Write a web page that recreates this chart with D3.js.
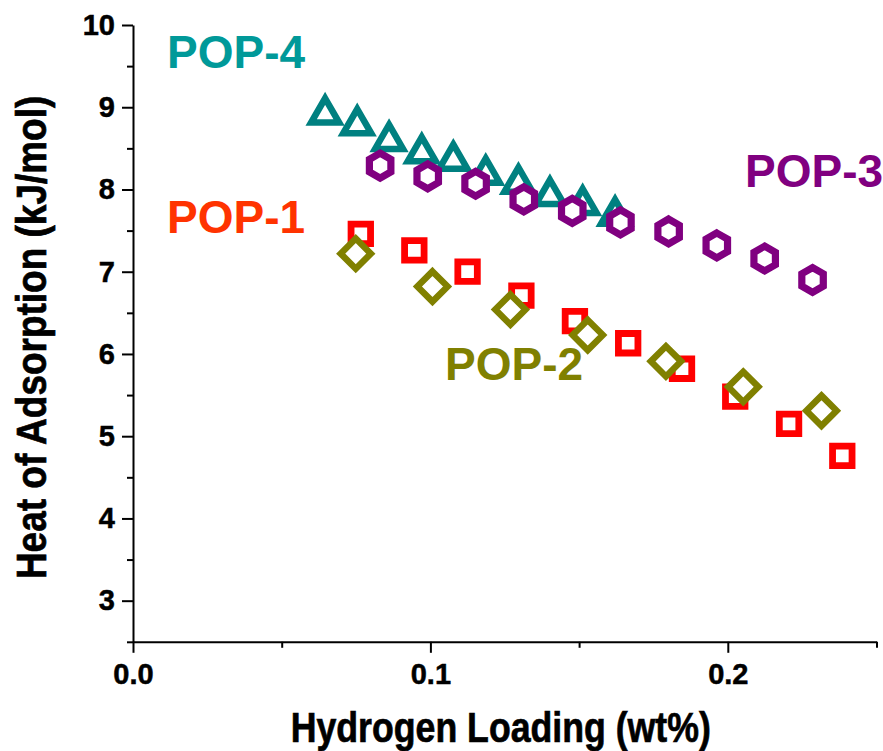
<!DOCTYPE html>
<html>
<head>
<meta charset="utf-8">
<script src="https://cdn.jsdelivr.net/npm/d3@7"></script>
<style>
  body { margin: 0; background: #fff; }
  svg { display: block; }
  text { font-family: "Liberation Sans", Arial, sans-serif; font-weight: bold; }
</style>
</head>
<body>
<svg id="chart" width="883" height="751"></svg>
<script>
// Isosteric heat of H2 adsorption vs. hydrogen uptake for four porous organic polymers
const pop1X = [0.0766, 0.0946, 0.1125, 0.1306, 0.1486, 0.1665, 0.1846, 0.2025, 0.2206, 0.2385];
const pop1Y = [7.46, 7.26, 7.00, 6.71, 6.40, 6.13, 5.82, 5.48, 5.15, 4.76];
const pop2X = [0.0749, 0.1007, 0.1269, 0.1529, 0.1792, 0.2052, 0.2315];
const pop2Y = [7.22, 6.82, 6.54, 6.23, 5.91, 5.60, 5.31];
const pop3X = [0.0831, 0.0991, 0.1152, 0.1314, 0.1477, 0.1639, 0.1801, 0.1963, 0.2124, 0.2285];
const pop3Y = [8.29, 8.16, 8.07, 7.88, 7.74, 7.60, 7.49, 7.32, 7.16, 6.90];
const pop4X = [0.0646, 0.0754, 0.0861, 0.0971, 0.1077, 0.1186, 0.1296, 0.1402, 0.1512, 0.1621];
const pop4Y = [8.98, 8.85, 8.66, 8.51, 8.42, 8.25, 8.14, 7.99, 7.88, 7.75];

const xMajor = [0.0, 0.1, 0.2];
const xMinor = [0.05, 0.15, 0.25];
const yMajor = [3, 4, 5, 6, 7, 8, 9, 10];
const yMinor = [2.5, 3.5, 4.5, 5.5, 6.5, 7.5, 8.5, 9.5];

const xTitle = "Hydrogen Loading (wt%)";
const yTitle = "Heat of Adsorption (kJ/mol)";

// Open marker shapes (size = characteristic length in px)
const squareShape = { draw(ctx, s) { const h = s / 2; ctx.moveTo(-h, -h); ctx.lineTo(h, -h); ctx.lineTo(h, h); ctx.lineTo(-h, h); ctx.closePath(); } };
const diamondShape = { draw(ctx, r) { ctx.moveTo(0, -r); ctx.lineTo(r, 0); ctx.lineTo(0, r); ctx.lineTo(-r, 0); ctx.closePath(); } };
const triangleShape = { draw(ctx, a) {
  const h = a * Math.sqrt(3) / 2, off = 1.6;
  ctx.moveTo(0, -h / 2 + off); ctx.lineTo(a / 2, h / 2 + off); ctx.lineTo(-a / 2, h / 2 + off); ctx.closePath();
} };
const hexagonShape = { draw(ctx, R) {
  for (let k = 0; k < 6; k++) {
    const ang = -Math.PI / 2 + k * Math.PI / 3;
    const px = R * Math.cos(ang), py = R * Math.sin(ang);
    if (k === 0) ctx.moveTo(px, py); else ctx.lineTo(px, py);
  }
  ctx.closePath();
} };

const series = [
  { name: "POP-1", xs: pop1X, ys: pop1Y, shape: squareShape, size: 19.5, stroke: 6.8, color: "#ff0000",
    label: { x: 167, y: 233, color: "#ff3300" } },
  { name: "POP-2", xs: pop2X, ys: pop2Y, shape: diamondShape, size: 15.1, stroke: 6.5, color: "#808000",
    label: { x: 445, y: 380, color: "#808000" } },
  { name: "POP-4", xs: pop4X, ys: pop4Y, shape: triangleShape, size: 28, stroke: 6.5, color: "#008080",
    label: { x: 167, y: 68, color: "#009999" } },
  { name: "POP-3", xs: pop3X, ys: pop3Y, shape: hexagonShape, size: 12.4, stroke: 7.2, color: "#800080",
    label: { x: 745, y: 187, color: "#800080" } }
];

const svg = d3.select("#chart");
const plotLeft = 133, plotRight = 876.5, plotTop = 25, plotBottom = 641.8;

const x = d3.scaleLinear().domain([0, 0.25]).range([plotLeft, plotRight]);
const y = d3.scaleLinear().domain([2.5, 10]).range([plotBottom, plotTop]);

// X axis
const gx = svg.append("g").attr("transform", `translate(0,${plotBottom})`);
gx.call(d3.axisBottom(x).tickValues(xMajor).tickSize(11).tickSizeOuter(0).tickPadding(11).tickFormat(d3.format(".1f")));
gx.append("g").call(d3.axisBottom(x).tickValues(xMinor).tickSize(6).tickSizeOuter(0).tickFormat(""))
  .select(".domain").remove();

// Y axis
const gy = svg.append("g").attr("transform", `translate(${plotLeft},0)`);
gy.call(d3.axisLeft(y).tickValues(yMajor).tickSize(11).tickSizeOuter(0).tickPadding(7).tickFormat(d3.format("d")));
gy.append("g").call(d3.axisLeft(y).tickValues(yMinor).tickSize(6).tickSizeOuter(0).tickFormat(""))
  .select(".domain").remove();

svg.selectAll(".domain").attr("stroke", "#000").attr("stroke-width", 2);
svg.selectAll(".tick line").attr("stroke", "#000").attr("stroke-width", 2);
svg.selectAll(".tick text").attr("fill", "#000")
  .attr("font-family", "'Liberation Sans', Arial, sans-serif").attr("font-weight", "bold")
  .style("font-size", "29px")
  .attr("stroke", "#000").attr("stroke-width", 0.5);

// Axis titles (condensed bold)
svg.append("text")
  .attr("transform", `translate(${(plotLeft + plotRight) / 2 - 4},742) scale(0.83,1)`)
  .attr("text-anchor", "middle").style("font-size", "43px").attr("fill", "#000")
  .attr("stroke", "#000").attr("stroke-width", 0.7)
  .text(xTitle);
svg.append("text")
  .attr("transform", `translate(46,${(plotTop + plotBottom) / 2 + 4}) rotate(-90) scale(0.86,1)`)
  .attr("text-anchor", "middle").style("font-size", "43px").attr("fill", "#000")
  .attr("stroke", "#000").attr("stroke-width", 0.7)
  .text(yTitle);

// Markers
series.forEach(s => {
  const pts = s.xs.map((v, i) => ({ x: v, y: s.ys[i] }));
  svg.append("g").attr("class", "series").selectAll("path")
    .data(pts).join("path")
    .attr("transform", d => `translate(${x(d.x)},${y(d.y)})`)
    .attr("d", d3.symbol().type(s.shape).size(s.size)())
    .attr("fill", "#fff")
    .attr("stroke", s.color)
    .attr("stroke-width", s.stroke)
    .attr("stroke-linejoin", "miter");
});

// Series labels
series.forEach(s => {
  svg.append("text")
    .attr("x", s.label.x).attr("y", s.label.y)
    .style("font-size", "46px").attr("fill", s.label.color)
    .text(s.name);
});
</script>
</body>
</html>
